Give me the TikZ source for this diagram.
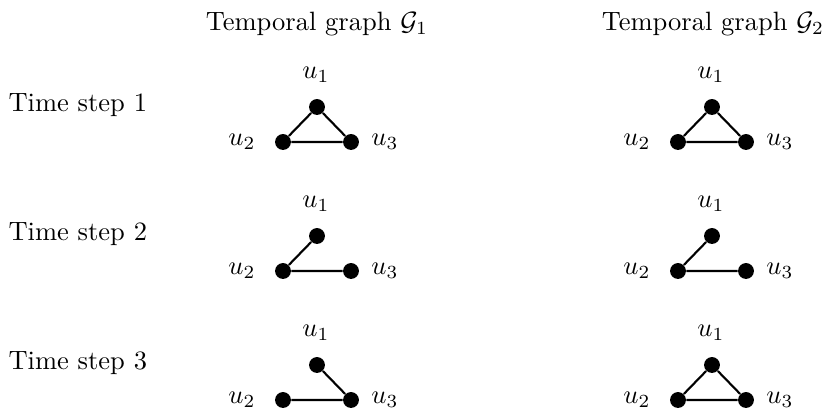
\documentclass[tikz,border=0pt]{standalone}
\begin{document}
\begin{tikzpicture}[x=0.37736pt,y=-0.37736pt,
  vert/.style={circle,fill=black,inner sep=0pt,minimum size=6pt},
  edge/.style={line width=0.8pt},
  lbl/.style={inner sep=0pt}]
\useasboundingbox (0,0) rectangle (824,410);
% titles
\node[lbl] (t1) at (317,24) {Temporal graph $\mathcal{G}_1$};
\node[lbl] (t2) at (713,24) {Temporal graph $\mathcal{G}_2$};
% rows
\foreach \r/\yy in {1/0,2/129,3/258}{
  \node[lbl,anchor=west] (ts\r) at (8,105+\yy) {Time step \r};
  \foreach \g/\xx in {1/0,2/395}{
    \node[vert] (g\g r\r a) at (317+\xx,107+\yy) {};
    \node[vert] (g\g r\r b) at (283+\xx,142+\yy) {};
    \node[vert] (g\g r\r c) at (351+\xx,142+\yy) {};
    \node[lbl] (g\g r\r la) at (316+\xx,75+\yy) {$u_1$};
    \node[lbl] (g\g r\r lb) at (242+\xx,142+\yy) {$u_2$};
    \node[lbl] (g\g r\r lc) at (385+\xx,142+\yy) {$u_3$};
  }
}
% edges G1
\draw[edge] (g1r1a) -- (g1r1b) -- (g1r1c) -- (g1r1a);
\draw[edge] (g1r2a) -- (g1r2b) -- (g1r2c);
\draw[edge] (g1r3a) -- (g1r3c) -- (g1r3b);
% edges G2
\draw[edge] (g2r1a) -- (g2r1b) -- (g2r1c) -- (g2r1a);
\draw[edge] (g2r2a) -- (g2r2b) -- (g2r2c);
\draw[edge] (g2r3a) -- (g2r3b) -- (g2r3c) -- (g2r3a);
\end{tikzpicture}
\end{document}
